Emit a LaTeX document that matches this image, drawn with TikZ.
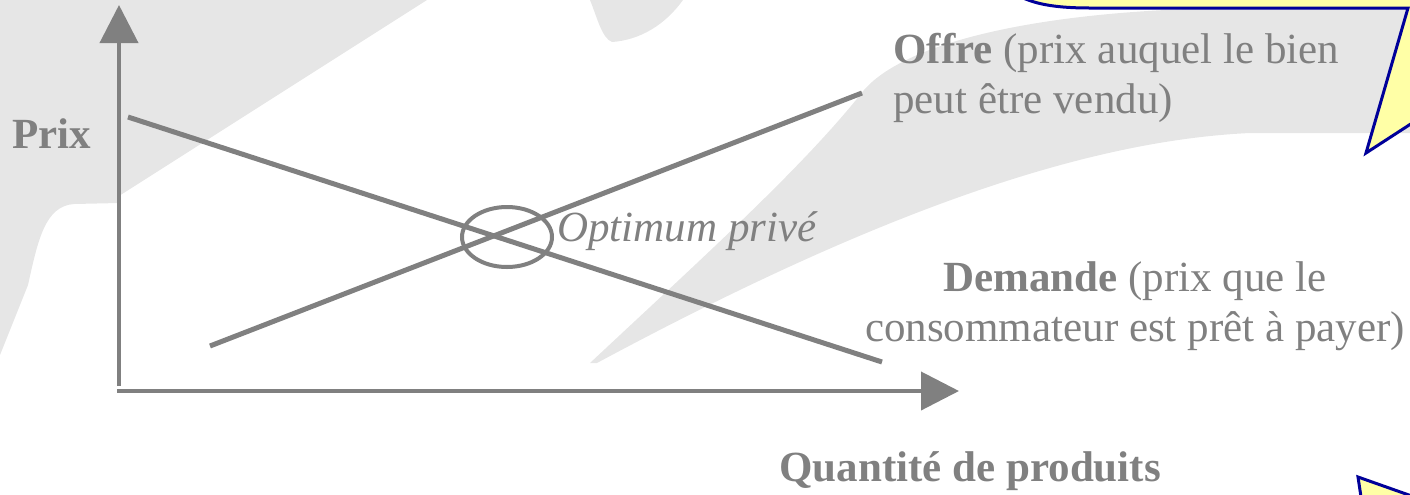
\documentclass[tikz,border=0pt]{standalone}
\usepackage{fontspec}
\setmainfont{Liberation Serif}
\usetikzlibrary{positioning,arrows.meta,shapes.geometric}
\definecolor{figGris}{RGB}{128,128,128}
\definecolor{figFiligrane}{RGB}{230,230,230}
\definecolor{figJaune}{RGB}{255,255,166}
\definecolor{figMarine}{RGB}{0,0,153}

\begin{document}
\begin{tikzpicture}[
  x=0.5pt, y=-0.5pt, every node/.style={font=\fontsize{21.5}{25}\selectfont, text=figGris, inner sep=0pt},
  filigrane/.style={fill=figFiligrane},
  bulle/.style={draw=figMarine, line width=1.5pt, fill=figJaune, line join=miter},
  axe/.style={draw=figGris, line width=2pt, -{Triangle[length=19pt,width=19pt]}},
  courbe/.style={draw=figGris, line width=2.5pt},
  optim/.style={draw=figGris, line width=2pt, ellipse, minimum width=45pt, minimum height=30pt}
]
\useasboundingbox (0,0) rectangle (1410,494);
\clip (0,0) rectangle (1410,494);

% Filigrane en fond
\fill[filigrane] (0,0) -- (427,0) -- (119,196) -- (119,203) -- (74,204)
      .. controls (45,206) and (38,240) .. (28,285) -- (0,355) -- cycle;
\fill[filigrane] (590,0) .. controls (598,20) and (602,38) .. (612,42)
      .. controls (640,40) and (665,25) .. (683,0) -- cycle;
\fill[filigrane] (590,363) .. controls (700,260) and (800,170) .. (860,95)
      .. controls (900,40) and (1050,10) .. (1230,8) -- (1410,8) -- (1410,133)
      -- (1250,133) .. controls (1100,140) and (900,200) .. (597,363) -- cycle;

% Bulles jaunes, coupees par le bord
\filldraw[bulle] (995,-40) .. controls (1000,0) and (1040,8) .. (1090,8)
      -- (1408,8) -- (1366,153) -- (1440,105) -- (1440,-40) -- cycle;
\filldraw[bulle] (1358,477) -- (1440,506) -- (1440,530) -- (1366,530) -- cycle;

% Axes
\coordinate (yBas) at (119,386);
\coordinate (yHaut) at (119,5);
\coordinate (xGauche) at (117,391);
\coordinate (xDroite) at (959,391);
\draw[axe] (yBas) -- (yHaut);
\draw[axe] (xGauche) -- (xDroite);

% Courbes
\coordinate (dDebut) at (128,117);
\coordinate (dFin) at (882,362);
\coordinate (oDebut) at (210,346);
\coordinate (oFin) at (862,93);
\draw[courbe] (dDebut) -- (dFin);
\draw[courbe] (oDebut) -- (oFin);

\node[optim] (optimum) at (507,237) {};
\node[anchor=base west, font=\fontsize{21.5}{25}\selectfont\itshape] (optLabel) at (557,241) {Optimum privé};

\node[anchor=base west, font=\fontsize{21.5}{25}\selectfont\bfseries] (prix) at (12,148) {Prix};
\node[anchor=base west, font=\fontsize{21.5}{25}\selectfont\bfseries] (quantite) at (779,481) {Quantité de produits};
\node[anchor=north west, align=left] (offre) at (893,33)
      {\textbf{Offre} (prix auquel le bien\\peut être vendu)};
\node[anchor=north, align=center] (demande) at (1135,261)
      {\textbf{Demande} (prix que le\\consommateur est prêt à payer)};
\end{tikzpicture}
\end{document}
